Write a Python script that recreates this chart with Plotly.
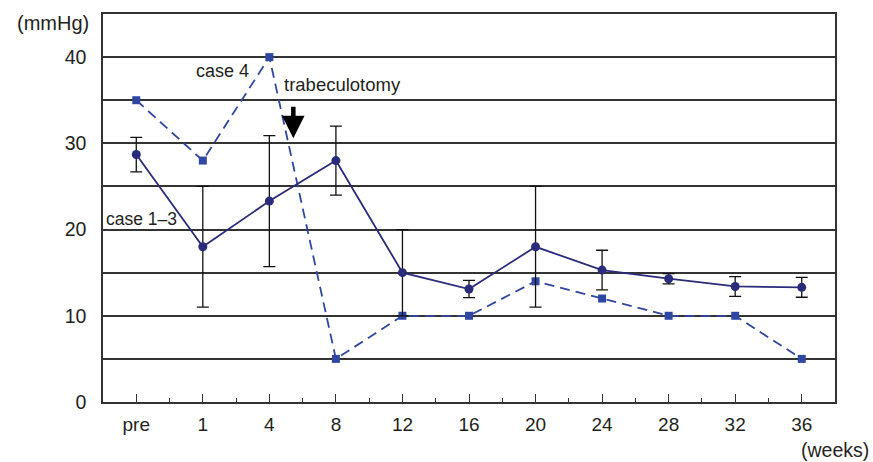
import plotly.graph_objects as go

categories = ["pre", "1", "4", "8", "12", "16", "20", "24", "28", "32", "36"]
case13_mean = [28.7, 18.0, 23.3, 28.0, 15.0, 13.1, 18.0, 15.3, 14.3, 13.4, 13.3]
case13_err = [2.0, 7.0, 7.6, 4.0, 5.0, 1.0, 7.0, 2.3, 0.6, 1.15, 1.15]
case4_vals = [35, 28, 40, 5, 10, 10, 14, 12, 10, 10, 5]
y_tickvals = [0, 5, 10, 15, 20, 25, 30, 35, 40]
y_ticktext = ["0", "", "10", "", "20", "", "30", "", "40"]

xi = list(range(len(categories)))
FONT = "Liberation Sans, Arial, sans-serif"
TXT = "#231f20"
GRID = "#333333"

fig = go.Figure()

fig.add_trace(go.Scatter(
    x=xi, y=case4_vals, mode="lines+markers",
    line=dict(color="#2f47a3", width=1.8, dash="10px,6px"),
    marker=dict(symbol="square", size=8, color="#2f47a3"),
    showlegend=False, cliponaxis=False,
))

fig.add_trace(go.Scatter(
    x=xi, y=case13_mean, mode="lines+markers",
    line=dict(color="#2a2b7a", width=1.8),
    marker=dict(symbol="circle", size=9, color="#2a2b7a"),
    error_y=dict(type="data", array=case13_err, visible=True,
                 color="#111111", thickness=1.3, width=6),
    showlegend=False, cliponaxis=False,
))

fig.update_layout(
    width=873, height=462,
    margin=dict(l=103, r=38, t=12, b=60),
    plot_bgcolor="white", paper_bgcolor="white",
    font=dict(family=FONT, size=19, color=TXT),
    xaxis=dict(
        range=[-0.5, 10.5], tickmode="array", tickvals=xi, ticktext=categories,
        showgrid=False, zeroline=False,
        showline=True, linecolor=GRID, linewidth=1.5, mirror=True,
        ticks="inside", ticklen=8, tickcolor=GRID, tickwidth=1.2,
        ticklabelstandoff=4,
        minor=dict(tickmode="array", tickvals=[v + 0.5 for v in xi[:-1]],
                   ticks="inside", ticklen=4, tickcolor=GRID, tickwidth=1.2),
        tickfont=dict(size=19, color=TXT),
    ),
    yaxis=dict(
        range=[0, 45], tickmode="array", tickvals=y_tickvals, ticktext=y_ticktext,
        showgrid=True, gridcolor=GRID, gridwidth=1.5,
        zeroline=False,
        showline=True, linecolor=GRID, linewidth=1.5, mirror=True,
        ticks="", ticklabelstandoff=11,
        tickfont=dict(size=19.5, color=TXT),
    ),
)

fig.add_annotation(xref="paper", yref="paper", x=(91 - 103) / 732, y=(402 - 21) / 390,
                   text="(mmHg)", showarrow=False, xanchor="right", yanchor="middle",
                   font=dict(size=20, color=TXT))
fig.add_annotation(xref="paper", yref="paper", x=(871 - 103) / 732, y=(402 - 450) / 390,
                   text="(weeks)", showarrow=False, xanchor="right", yanchor="middle",
                   font=dict(size=19.5, color=TXT))
fig.add_annotation(x=1.29, y=38.4, text="case 4", showarrow=False,
                   xanchor="center", yanchor="middle", font=dict(size=18, color=TXT))
fig.add_annotation(x=2.19, y=36.8, text="trabeculotomy", showarrow=False,
                   xanchor="left", yanchor="middle", font=dict(size=18.5, color=TXT))
fig.add_annotation(x=-0.49, y=21.2, text="case 1–3", showarrow=False,
                   xanchor="left", yanchor="middle", font=dict(size=17.5, color=TXT))
fig.add_annotation(x=2.36, y=30.6, text="", showarrow=True, ax=0, ay=-33,
                   arrowhead=2, arrowsize=1.0, arrowwidth=4.5, arrowcolor="#000000",
                   standoff=0)

fig.write_html("out.html", config={"displayModeBar": False},
               post_script="document.body.style.margin='0';")
